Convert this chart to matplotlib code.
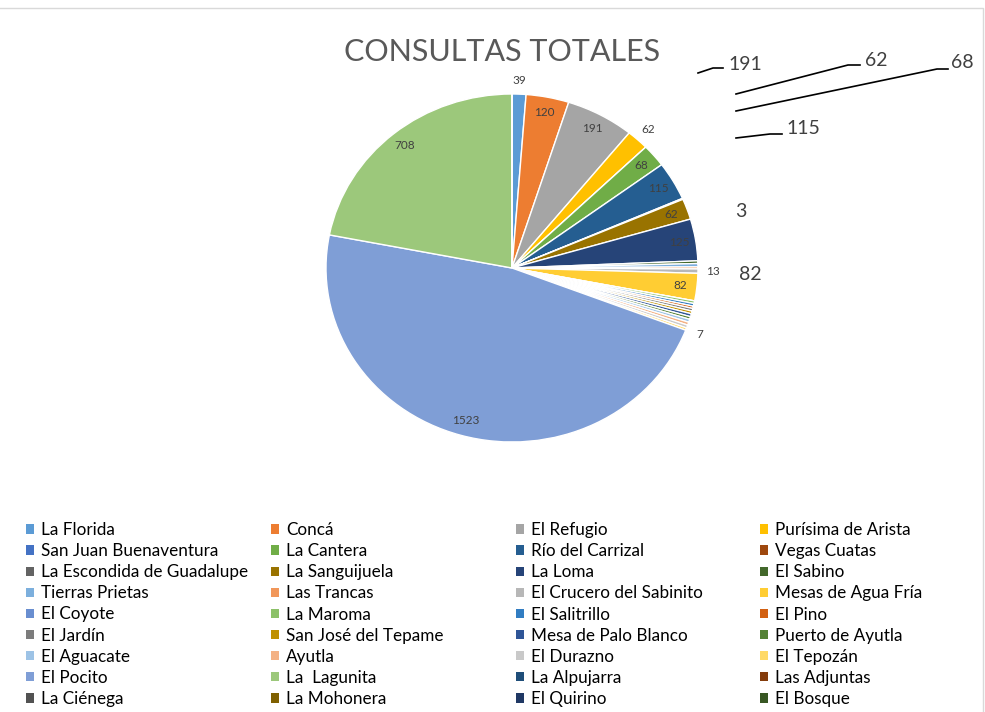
import matplotlib
matplotlib.use("Agg")
import matplotlib.pyplot as plt
from matplotlib.patches import Patch
from matplotlib.lines import Line2D
import numpy as np

plt.rcParams['font.family'] = ['Lato', 'DejaVu Sans']

names = ["La Florida", "Concá", "El Refugio", "Purísima de Arista",
         "San Juan Buenaventura", "La Cantera", "Río del Carrizal", "Vegas Cuatas",
         "La Escondida de Guadalupe", "La Sanguijuela", "La Loma", "El Sabino",
         "Tierras Prietas", "Las Trancas", "El Crucero del Sabinito", "Mesas de Agua Fría",
         "El Coyote", "La Maroma", "El Salitrillo", "El Pino",
         "El Jardín", "San José del Tepame", "Mesa de Palo Blanco", "Puerto de Ayutla",
         "El Aguacate", "Ayutla", "El Durazno", "El Tepozán",
         "El Pocito", "La  Lagunita", "La Alpujarra", "Las Adjuntas",
         "La Ciénega", "La Mohonera", "El Quirino", "El Bosque"]

values = [39, 120, 191, 62,
          0, 68, 115, 3,
          0, 62, 125, 8,
          10, 6, 13, 82,
          0, 8, 8, 7,
          8, 8, 9, 8,
          9, 9, 9, 7,
          1523, 708, 0, 0,
          0, 0, 0, 0]

colors = ["#5B9BD5", "#ED7D31", "#A5A5A5", "#FFC000", "#4472C4", "#70AD47",
          "#255E91", "#9E480E", "#636363", "#997300", "#264478", "#43682B",
          "#7CAFDD", "#F1975A", "#B7B7B7", "#FFCD33", "#698ED0", "#8CC168",
          "#327DC2", "#D26012", "#7C7C7C", "#BF9000", "#2F5597", "#548235",
          "#9DC3E6", "#F4B183", "#C9C9C9", "#FFD966", "#7F9ED6", "#9CC87B",
          "#1F4E79", "#843C0C", "#525252", "#7F6000", "#203864", "#385723"]

title = "CONSULTAS TOTALES"

# which slices carry a data label, and radial position (style)
inner_labels = ["Concá", "El Refugio", "La Cantera", "Río del Carrizal",
                "La Sanguijuela", "La Loma", "Mesas de Agua Fría", "El Pocito", "La  Lagunita"]
outer_labels = ["La Florida", "Purísima de Arista", "El Crucero del Sabinito", "El Tepozán"]

W, H = 985, 712
fig = plt.figure(figsize=(W / 100, H / 100), dpi=100)
fig.patch.set_facecolor("white")

cx, cy, rx, ry = 512, 268, 186, 174
ax = fig.add_axes([(cx - rx) / W, (H - cy - ry) / H, 2 * rx / W, 2 * ry / H])
wedges, _ = ax.pie(values, colors=colors, startangle=90, counterclock=False,
                   wedgeprops=dict(edgecolor="white", linewidth=1.0))
ax.set_aspect("auto")
ax.set_xlim(-1, 1)
ax.set_ylim(-1, 1)
ax.axis("off")

for i, w in enumerate(wedges):
    nm = names[i]
    if nm in inner_labels:
        r = 0.91
    elif nm in outer_labels:
        r = 1.08
    else:
        continue
    ang = np.deg2rad((w.theta1 + w.theta2) / 2)
    ax.text(r * np.cos(ang), r * np.sin(ang), str(values[i]), ha="center", va="center",
            fontsize=8.5, color="#404040", clip_on=False)

# title
fig.text(502 / W, 1 - 52 / H, title, ha="center", va="center", fontsize=22, color="#595959")

# big moved labels with leader lines (pixel coords from top-left)
def px(x, y):
    return x / W, 1 - y / H

big = [
    ("El Refugio", (745, 64), [(698, 73), (713, 68), (723, 68)]),
    ("Purísima de Arista", (876, 60), [(736, 94), (848, 65), (860, 65)]),
    ("La Cantera", (962, 63), [(736, 111), (937, 69), (948, 69)]),
    ("Río del Carrizal", (803, 128), [(736, 138), (770, 134), (782, 134)]),
    ("Vegas Cuatas", (741, 212), None),
    ("Mesas de Agua Fría", (750, 275), None),
]
for nm, (tx, ty), line in big:
    v = values[names.index(nm)]
    fig.text(*px(tx, ty), str(v), ha="center", va="center", fontsize=14, color="#404040")
    if line:
        xs = [p[0] / W for p in line]
        ys = [1 - p[1] / H for p in line]
        fig.add_artist(Line2D(xs, ys, color="black", lw=1.2, transform=fig.transFigure))

# legend: four columns, row-wise order
handles = [Patch(facecolor=w.get_facecolor(), edgecolor="none") for w in wedges]
col_x = [26, 271, 516, 760]
ncol = 4
for c in range(ncol):
    idx = list(range(c, len(names), ncol))
    leg = fig.legend([handles[i] for i in idx], [names[i] for i in idx],
                     loc="upper left", bbox_to_anchor=(col_x[c] / W, 1 - 522 / H),
                     frameon=False, fontsize=12.3, handlelength=0.45, handleheight=0.45,
                     handletextpad=0.42, labelspacing=0.30, borderpad=0, borderaxespad=0)
    for t in leg.get_texts():
        t.set_color("#000000")

# faint chart border
fig.add_artist(Line2D([0, 983 / W, 983 / W], [1 - 8 / H, 1 - 8 / H, 0],
                      color="#D9D9D9", lw=1, transform=fig.transFigure))

fig.savefig("out.png", dpi=100, facecolor="white")
